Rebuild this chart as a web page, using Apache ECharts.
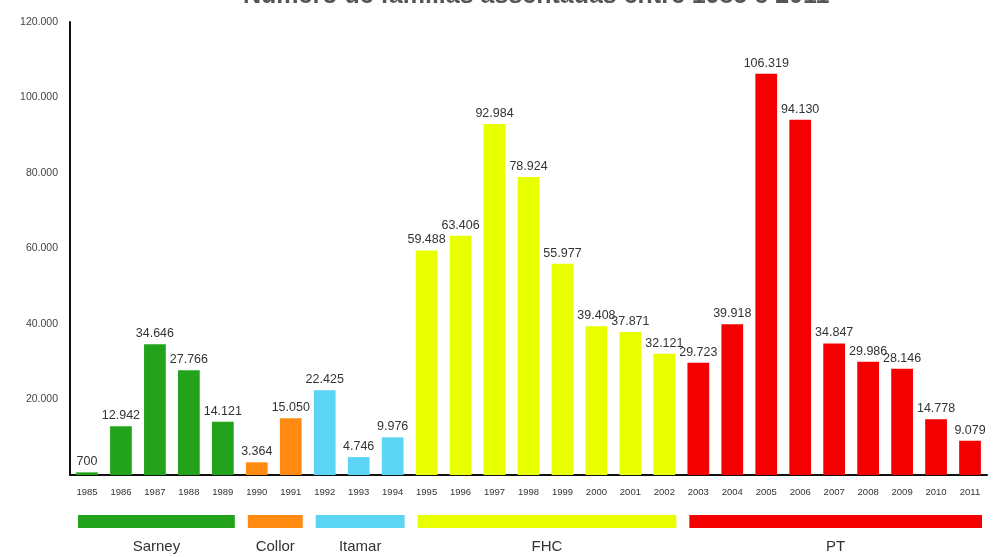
<!DOCTYPE html>
<html><head><meta charset="utf-8">
<script src="https://cdn.jsdelivr.net/npm/echarts@6/dist/echarts.min.js"></script>
<style>html,body{margin:0;padding:0;background:#fff}#c{width:995px;height:557px}</style>
</head><body><div id="c"></div>
<script>
const years = ['1985','1986','1987','1988','1989','1990','1991','1992','1993','1994','1995','1996','1997','1998','1999','2000','2001','2002','2003','2004','2005','2006','2007','2008','2009','2010','2011'];
const families = [700,12942,34646,27766,14121,3364,15050,22425,4746,9976,59488,63406,92984,78924,55977,39408,37871,32121,29723,39918,106319,94130,34847,29986,28146,14778,9079];
const govNames = ['Sarney','Collor','Itamar','FHC','PT'];
const govStart = [0,5,7,10,18];
const govEnd = [4,6,9,17,26];
const govColors = ['#22a31b','#ff8a12','#5bd5f3','#e8ff00','#f50000'];
const yTicks = [0,20000,40000,60000,80000,100000,120000];

function fmt(v){ return String(v).replace(/\B(?=(\d{3})+(?!\d))/g,'.'); }
function govOf(i){ for(let g=0;g<govStart.length;g++){ if(i>=govStart[g]&&i<=govEnd[g]) return g; } return 0; }

const chart = echarts.init(document.getElementById('c'));
chart.setOption({
  animation:false,
  title:{ text:'Número de famílias assentadas entre 1985 e 2011', left:238, top:-21,
    textStyle:{ fontFamily:'Liberation Sans, Arial', fontSize:25, fontWeight:'bold', color:'#555' } },
  grid:[
    { left:70, right:8, top:22, bottom:82 },
    { left:70, right:8, top:515, height:13 }
  ],
  xAxis:[
    { type:'category', data:years, gridIndex:0,
      axisLine:{ lineStyle:{ color:'#111', width:2 } }, axisTick:{ show:false },
      axisLabel:{ fontSize:9.5, color:'#333', margin:12, fontFamily:'Liberation Sans, Arial' } },
    { type:'category', data:years, gridIndex:1, show:false }
  ],
  yAxis:[
    { type:'value', min:yTicks[0], max:yTicks[yTicks.length-1], interval:20000, gridIndex:0,
      axisLine:{ show:true, lineStyle:{ color:'#111', width:2 } }, axisTick:{ show:false },
      splitLine:{ show:false },
      axisLabel:{ formatter:v=>(v===0?'':fmt(v)), fontSize:10.5, color:'#444', margin:12, fontFamily:'Liberation Sans, Arial' } },
    { type:'value', min:0, max:1, gridIndex:1, show:false }
  ],
  series:[
    { type:'bar', xAxisIndex:0, yAxisIndex:0, barCategoryGap:'36%',
      data: families.map((v,i)=>({ value:v, itemStyle:{ color:govColors[govOf(i)] } })),
      label:{ show:true, position:'top', distance:4, formatter:p=>fmt(p.value),
        fontSize:12.5, color:'#333', fontFamily:'Liberation Sans, Arial' } },
    { type:'custom', xAxisIndex:1, yAxisIndex:1, clip:false,
      data: govNames.map((n,g)=>[govStart[g], govEnd[g], g]),
      renderItem:(params, api)=>{
        const g = api.value(2);
        const s = api.coord([api.value(0), 1]);
        const e = api.coord([api.value(1), 0]);
        const half = api.size([1,0])[0]/2;
        const x0 = s[0]-half+8, x1 = e[0]+half-5;
        return { type:'group', children:[
          { type:'rect', shape:{ x:x0, y:s[1], width:x1-x0, height:e[1]-s[1] }, style:{ fill:govColors[g] } },
          { type:'text', style:{ text:govNames[g], x:(x0+x1)/2, y:e[1]+19, align:'center', verticalAlign:'middle',
            fontSize:15, fill:'#333', fontFamily:'Liberation Sans, Arial' } }
        ]};
      } }
  ]
});
</script></body></html>
